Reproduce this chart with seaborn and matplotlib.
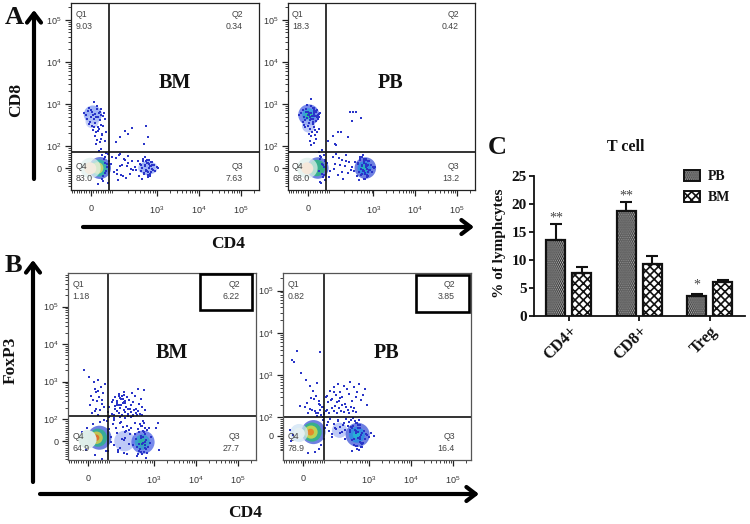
import matplotlib
matplotlib.use("Agg")
import matplotlib.pyplot as plt
import pandas as pd
import seaborn as sns
from matplotlib.patches import Patch, Rectangle

sns.set_theme(style="white")
plt.rcParams["font.family"] = ["Liberation Sans", "DejaVu Sans"]
plt.rcParams["mathtext.default"] = "regular"
plt.rcParams["hatch.linewidth"] = 1.2

W, H = 750, 524
SERIF = "Liberation Serif"

# bar chart values
cells = ["CD4+", "CD8+", "Treg"]
pb_vals = [13.6, 18.7, 3.5]
bm_vals = [7.7, 9.3, 6.0]
pb_err = [2.8, 1.6, 0.4]
bm_err = [1.1, 1.5, 0.4]
sig_labels = ["**", "**", "*"]
sig_y = [16.3, 20.2, 4.3]

# gate percentages per plot (Q1, Q2, Q3, Q4)
a_bm_pct = ["9.03", "0.34", "7.63", "83.0"]
a_pb_pct = ["18.3", "0.42", "13.2", "68.0"]
b_bm_pct = ["1.18", "6.22", "27.7", "64.9"]
b_pb_pct = ["0.82", "3.85", "16.4", "78.9"]

# events, in fluorescence units
a_bm_x = [-30, -18, -10, -4, 2, 8, 14, 20, 26, 32, 38, 44, 50, -22, -12, 0, 6, 12, 18, 24, 30, 36, 42, 55, 60, -8, 4, 16, 28, 40,
          10, 22, 34, 46, 18, 30, 42, 26, 14, 36, 20, 48, 52, 60, 64,
          70, 60, 55, 48, 66, 72, 62, 50, 58, 68, 75, 40, 52, 64, 35, 47, 30, 58,
          85, 95, 105, 115, 125, 140, 150, 165, 180, 195, 210, 230, 250, 270, 300, 120, 135, 160, 200, 240, 90, 110, 130, 175,
          320, 350, 380, 410, 440, 470, 500, 530, 560, 590, 620, 650, 680, 710, 740, 780, 820, 870, 920, 980, 1050,
          400, 430, 460, 490, 520, 550, 580, 610, 640, 670, 700, 730, 760, 450, 510, 570, 630, 690, 750, 540, 600, 660,
          105, 130, 170, 200, 250, 480, 620, 560]
a_bm_y = [620, 450, 820, 380, 700, 540, 1100, 480, 900, 600, 420, 760, 520, 560, 690, 500, 640, 430, 590, 740, 480, 660, 560, 600, 450, 340, 300, 360, 280, 320,
          240, 210, 260, 190, 170, 230, 150, 140, 280, 125, 110, 180, 300, 135, 220,
          62, -22, 40, -50, 18, -70, 70, -35, 50, 5, 30, 85, -60, -15, 78, 60, -72, 25,
          20, -18, 45, -8, 60, -30, 15, 40, -45, 8, 55, -25, 30, -10, 5, -55, 65, -38, 22, -5, 48, -28, 10, 35,
          -10, 30, -35, 15, -50, 40, -22, 52, -12, 25, -42, 35, -30, 10, -18, 28, -8, 12, -15, 5, 2,
          20, -15, 32, -28, 12, -8, 38, -20, 18, -35, 8, 28, -6, -2, 8, -12, 22, -25, 14, 30, -30, 2,
          125, 160, 230, 190, 270, 110, 160, 300]

a_pb_x = [-35, -22, -12, -5, 2, 9, 15, 22, 28, 35, 42, 48, -28, -16, -6, 5, 12, 19, 26, 33, 40, 46, 52, -20, -8, 3, 14, 25, 36, 44,
          0, 10, 20, 30, 40, -10, 5, 15, 25, 35, 8, 18, 28, -15, 45, 12, 22, 32, 6, 16, 26, 38, 2, 12, 24, 34, -4, 8, 30, 20,
          66, 58, 50, 70, 62, 54, 46, 72, 64, 56, 48, 68, 60, 52, 74, 66, 58, 50,
          82, 92, 105, 115, 130, 145, 160, 175, 190, 210, 225, 245, 265, 290, 315, 88, 120, 150, 180, 220,
          340, 370, 400, 430, 460, 490, 520, 550, 580, 610, 640, 670, 700, 730, 760, 790, 820, 860, 900, 950, 1020, 1100,
          420, 450, 480, 510, 540, 570, 600, 630, 660, 690, 720, 750, 780, 500, 530, 560, 590, 620, 650, 680, 710, 470, 520, 600, 680, 740,
          85, 110, 140, 170, 120, 310, 320, 380, 280, 500, 130, 240]
a_pb_y = [560, 720, 420, 950, 640, 480, 1300, 820, 530, 680, 450, 590, 610, 500, 760, 560, 890, 430, 640, 520, 720, 480, 600, 380, 660, 350, 450, 780, 400, 540,
          300, 260, 330, 240, 210, 280, 190, 170, 290, 150, 135, 220, 120, 320, 260, 105, 380, 180, 600, 510, 570, 480, 550, 620, 700, 640, 460, 410, 520, 450,
          60, -25, 42, -55, 15, -70, 72, 30, -40, 52, -12, 5, 80, -62, 35, -30, 20, 55,
          25, -15, 50, -6, 65, -32, 12, 38, -48, 10, 58, -22, 28, -8, 4, -40, 18, 45, -18, 32,
          -12, 28, -38, 18, -55, 45, -25, 58, -14, 30, -48, 38, -32, 12, -20, 30, -8, 15, -18, 6, 0, 3,
          22, -18, 35, -30, 14, -10, 42, -24, 20, -40, 10, 32, -8, -3, 8, -14, 25, -28, 16, 4, -6, 48, 50, -50, 40, -35,
          130, 170, 220, 210, 110, 400, 640, 650, 650, 470, 105, 160]

b_bm_x = [-15, 5, 25, 40, 55, 62, 30, 48, 12, 36, 58, 44, 20, 52, 66, 35, 8, 28, 42, 60, 72, 16, 34,
          90, 105, 120, 135, 150, 165, 180, 195, 210, 225, 240, 260, 280, 300, 320, 350, 380, 410, 450, 490, 530, 570, 620,
          85, 100, 115, 130, 145, 160, 175, 190, 205, 220, 240, 265, 290, 310, 340, 370, 400, 430, 470, 510, 100, 130, 160, 190,
          120, 135, 150, 165, 180, 200, 120, 145, 170, 195, 90, 110, 160, 210, 240, 280, 320,
          78, 88, 98, 110, 125, 140, 155, 170, 190, 210, 230, 250, 270, 85, 105, 130, 155, 180, 205, 230, 260, 95, 115, 140, 165, 195, 220,
          290, 320, 350, 380, 410, 440, 470, 500, 530, 560, 590, 620, 650, 680, 710, 750, 790, 840, 1100, 1300, 1500, 1250,
          360, 390, 420, 450, 480, 510, 540, 570, 600, 630, 660, 690, 400, 440, 480, 520, 560, 600, 640, 460, 500, 540, 580, 620,
          -25, -10, 30, 50, 68, 74, -5, 20, 60]
b_bm_y = [2000, 1300, 950, 1100, 720, 480, 620, 380, 420, 300, 250, 560, 330, 170, 210, 190, 240, 160, 130, 330, 850, 145, 520,
          210, 330, 180, 270, 420, 230, 340, 510, 260, 390, 190, 320, 240, 480, 280, 410, 190, 620, 250, 340, 210, 610, 170,
          150, 135, 125, 160, 145, 200, 130, 175, 155, 210, 140, 185, 150, 130, 170, 145, 125, 160, 140, 130, 290, 240, 360, 280,
          380, 310, 470, 350, 260, 300, 220, 240, 410, 430, 110, 105, 115, 108, 120, 112, 118,
          90, 55, 20, -20, 60, -40, 80, 10, -55, 40, 70, -15, 30, -45, 75, 35, -30, 65, 15, -60, 50, -5, 95, -50, 85, 5, 45,
          60, -20, 80, 10, -60, 40, -35, 70, -15, 90, -50, 30, -75, 50, -25, 60, -10, 20, 60, -40, -90, 80,
          30, -25, 55, -45, 15, 70, -10, 40, -30, 60, 5, -55, -70, -15, 25, -60, 45, -5, -35, 75, -50, 20, 80, -20,
          40, -40, -65, 85, 95, -45, 60, 75, -82]

b_pb_x = [-45, -38, -25, -10, 12, 28, 42, 55, -12, 18, 30, 46, 60, 72, 38, 22, 52, 8, 66, 34,
          84, 95, 108, 120, 135, 150, 165, 180, 195, 210, 230, 250, 275, 300, 330, 360, 400, 440, 480, 530, 590, 650, 720, 800, 880,
          88, 100, 115, 130, 145, 160, 178, 195, 215, 235, 260, 285, 315, 345, 375, 410, 450, 500, 100, 125, 150, 175, 200,
          65, 70, 76, 80, 72, 60, 55, 68, 82, 90, 98,
          85, 92, 100, 110, 120, 135, 150, 165, 185, 205, 225, 250, 275, 90, 108, 130, 155, 180, 210, 240, 270,
          290, 310, 330, 350, 380, 400, 430, 460, 490, 520, 550, 580, 610, 640, 670, 710, 750, 800, 860, 920, 1000, 1150, 1350,
          360, 390, 420, 450, 480, 510, 540, 570, 600, 630, 660, 690, 400, 440, 480, 520, 560, 600, 640, 460, 500, 540, 580, 620, 380, 700,
          -55, -50, -42, 74, 68, 50, 20]
b_pb_y = [2300, 2000, 3800, 1100, 780, 560, 430, 330, 190, 220, 160, 270, 640, 3600, 150, 130, 140, 175, 210, 290,
          180, 310, 230, 420, 280, 520, 340, 620, 250, 400, 300, 560, 210, 470, 350, 680, 240, 520, 300, 400, 620, 260, 340, 460, 200,
          130, 150, 125, 165, 140, 190, 130, 170, 145, 200, 135, 180, 150, 125, 175, 140, 165, 135, 320, 260, 400, 230, 290,
          130, 150, 115, 175, 200, 110, 125, 240, 105, 120, 140,
          85, 40, 60, 25, 90, 10, 65, 35, 80, 50, 20, 70, 30, -15, 75, -5, 45, 85, 15, 60, -20,
          90, 55, 75, 20, 85, 40, 95, 30, 70, -55, 60, -75, 45, -60, 15, -40, 25, -20, 10, 5, -5, 15, 0,
          30, -25, 55, -50, 15, 70, -10, 40, -35, 60, 5, -60, -85, -15, 25, -70, 45, -5, -40, 80, -55, 20, 85, -20, 50, -45,
          30, -30, 5, -50, -70, -90, -95]

# soft density patches of the dense populations: x, y, marker area, colour
a_bm_blob_x = [8, 5, 600, 480, 750, 38, 34, 28, -2, -4]
a_bm_blob_y = [560, 380, 0, 0, 0, 0, 0, 0, 0, 0]
a_bm_blob_s = [170, 90, 110, 60, 70, 250, 150, 70, 220, 70]
a_bm_blob_c = ["#7f9af2", "#b4c2f6", "#7f9af2", "#a0b2f4", "#a0b2f4", "#3d55d8", "#27c49a", "#e8e060", "#e2f1ee", "#f5ece0"]

a_pb_blob_x = [4, 4, 4, 3, 640, 610, 600, 42, 38, -2, -4]
a_pb_blob_y = [550, 550, 550, 300, 0, 0, 0, 0, 0, 0, 0]
a_pb_blob_s = [230, 90, 25, 90, 240, 100, 25, 240, 140, 220, 70]
a_pb_blob_c = ["#4a63e6", "#2aa0d8", "#25c98a", "#a8b8f5", "#3d55d8", "#1f8fe0", "#22c0b0", "#3d55d8", "#25c070", "#dff0ec", "#f6e8da"]

b_bm_blob_x = [200, 550, 530, 520, 48, 42, 36, 34, -3]
b_bm_blob_y = [0, -5, -5, -5, 15, 15, 15, 15, 10]
b_bm_blob_s = [220, 280, 120, 30, 300, 170, 80, 22, 170]
b_bm_blob_c = ["#a8b8f5", "#4a63e6", "#2aa0c8", "#28b89a", "#3d55d8", "#25b880", "#e8d040", "#e8561e", "#dfeeea"]

b_pb_blob_x = [200, 540, 520, 510, 44, 38, 34, 32, -16, -18]
b_pb_blob_y = [30, 5, 5, 5, 20, 20, 20, 20, 15, 15]
b_pb_blob_s = [120, 300, 130, 30, 300, 190, 90, 24, 170, 60]
b_pb_blob_c = ["#a8b8f5", "#3d55d8", "#1f8fe0", "#22c0d0", "#3d55d8", "#25c070", "#e8e040", "#f0701e", "#cfe3f5", "#e6f1f2"]

major_ticks = [0, 1e3, 1e4, 1e5]
major_labels = ["0", r"$10^{3}$", r"$10^{4}$", r"$10^{5}$"]
y_ticks = [0, 1e2, 1e3, 1e4, 1e5]
y_labels = ["0", r"$10^{2}$", r"$10^{3}$", r"$10^{4}$", r"$10^{5}$"]
minor_ticks = ([v for v in range(-80, 100, 10) if v != 0]
               + [m * d for d in (100, 1000, 10000, 100000) for m in range(2, 10)])

fig = plt.figure(figsize=(W / 100, H / 100), dpi=100, facecolor="white")


def px_axes(left, top, right, bottom):
    return fig.add_axes([left / W, 1 - bottom / H, (right - left) / W, (bottom - top) / H])


def dot_plot(box, xs, ys, blob, pct, gate, ylin, ylim, name, frame="#222222"):
    ax = px_axes(*box)
    bx, by, bs, bc = blob
    sns.scatterplot(x=bx, y=by, hue=list(range(len(bx))), palette=bc, size=list(range(len(bx))),
                    sizes=dict(enumerate(bs)), alpha=0.75, linewidth=0, legend=False, ax=ax)
    sns.scatterplot(x=xs, y=ys, color="#2a35c8", s=1.0, marker="s", linewidth=0, ax=ax)
    # snow in the middle of the negative population goes on top of the dots
    sns.scatterplot(x=bx[-1:], y=by[-1:], color=bc[-1], s=bs[-1], linewidth=0, alpha=0.95, ax=ax)
    ax.set_xscale("symlog", linthresh=100, linscale=0.514)
    ax.set_yscale("symlog", linthresh=100, linscale=ylin)
    xlim = (-83, 2.7e5)
    ax.set_xticks(major_ticks, major_labels)
    ax.set_yticks(y_ticks, y_labels)
    ax.set_xticks([v for v in minor_ticks if xlim[0] < v < xlim[1]], minor=True)
    ax.set_yticks([v for v in minor_ticks if ylim[0] < v < ylim[1]], minor=True)
    ax.set_xlim(*xlim)
    ax.set_ylim(*ylim)
    ax.tick_params(which="major", length=4, width=0.9, color="#222222", labelsize=6.5, labelcolor="#333333", bottom=True, left=True)
    ax.tick_params(which="minor", length=2, width=0.6, color="#222222", bottom=True, left=True)
    ax.tick_params(axis="x", which="major", pad=6)
    ax.tick_params(axis="y", which="major", pad=3)
    for s in ax.spines.values():
        s.set_linewidth(0.9)
        s.set_color(frame)
    ax.axvline(gate[0], color="#111111", lw=1.2)
    ax.axhline(gate[1], color="#111111", lw=1.2)
    style = dict(transform=ax.transAxes, fontsize=6.3, color="#444444", va="center")
    ax.text(0.022, 0.936, "Q1", **style)
    ax.text(0.022, 0.877, pct[0], **style)
    ax.text(0.915, 0.936, "Q2", ha="right", **style)
    ax.text(0.915, 0.877, pct[1], ha="right", **style)
    ax.text(0.915, 0.128, "Q3", ha="right", **style)
    ax.text(0.915, 0.064, pct[2], ha="right", **style)
    ax.text(0.022, 0.128, "Q4", **style)
    ax.text(0.022, 0.064, pct[3], **style)
    ax.text(0.55, 0.57, name, transform=ax.transAxes, family=SERIF, weight="bold", fontsize=14.5,
            color="#111111", ha="center", va="center")
    return ax


dot_plot((71, 3, 259, 190), a_bm_x, a_bm_y, (a_bm_blob_x, a_bm_blob_y, a_bm_blob_s, a_bm_blob_c),
         a_bm_pct, (75, 73), 0.47, (-100, 2.5e5), "BM")
dot_plot((288, 3, 475, 190), a_pb_x, a_pb_y, (a_pb_blob_x, a_pb_blob_y, a_pb_blob_s, a_pb_blob_c),
         a_pb_pct, (75, 73), 0.47, (-100, 2.5e5), "PB")
dot_plot((68, 273, 256, 460), b_bm_x, b_bm_y, (b_bm_blob_x, b_bm_blob_y, b_bm_blob_s, b_bm_blob_c),
         b_bm_pct, (85, 120), 0.53, (-86, 7.9e5), "BM", frame="#555555")
dot_plot((283, 273, 471, 460), b_pb_x, b_pb_y, (b_pb_blob_x, b_pb_blob_y, b_pb_blob_s, b_pb_blob_c),
         b_pb_pct, (88, 105), 0.39, (-138, 2.6e5), "PB", frame="#555555")

# bar panel
bar_df = pd.DataFrame({"cell": cells * 2, "value": pb_vals + bm_vals, "err": pb_err + bm_err,
                       "group": ["PB"] * 3 + ["BM"] * 3})
bar_ax = px_axes(534, 176, 745, 316)
sns.barplot(data=bar_df, x="cell", y="value", hue="group", hue_order=["PB", "BM"], order=cells,
            palette=["#d8d8d8", "white"], width=0.74, gap=0.27, edgecolor="#111111", linewidth=1.6,
            saturation=1, errorbar=None, legend=False, ax=bar_ax)
pb_bars, bm_bars = bar_ax.containers
for bars, hatch, errs in ((pb_bars, "........", pb_err), (bm_bars, "xxxx", bm_err)):
    for bar, err in zip(bars, errs):
        bar.set_hatch(hatch)
        cx = bar.get_x() + bar.get_width() / 2
        bar_ax.errorbar(cx, bar.get_height(), yerr=[[0], [err]], color="#111111", lw=1.5, capsize=4, capthick=1.5)
for bar, lab, y in zip(pb_bars, sig_labels, sig_y):
    bar_ax.text(bar.get_x() + bar.get_width() / 2, y, lab, family=SERIF, fontsize=10, color="#444444", ha="center", va="bottom")

bar_ax.set_xlim(-0.496, 2.5)
bar_ax.set_ylim(0, 25)
bar_ax.set_yticks([0, 5, 10, 15, 20, 25])
bar_ax.set_xlabel("")
bar_ax.set_ylabel("")
sns.despine(ax=bar_ax)
for s in ("left", "bottom"):
    bar_ax.spines[s].set_linewidth(1.3)
    bar_ax.spines[s].set_color("#111111")
bar_ax.tick_params(axis="both", length=3.6, width=1.3, color="#111111", bottom=True, left=True, pad=1.5)
plt.setp(bar_ax.get_yticklabels(), family=SERIF, weight="bold", fontsize=11, color="#111111")
plt.setp(bar_ax.get_xticklabels(), family=SERIF, weight="bold", fontsize=11.5, color="#111111",
         rotation=45, ha="right", rotation_mode="anchor")

bar_ax.legend(handles=[Patch(facecolor="#d8d8d8", edgecolor="#111111", hatch="........", lw=1.4, label="PB"),
                       Patch(facecolor="white", edgecolor="#111111", hatch="xxxx", lw=1.4, label="BM")],
              loc="upper left", bbox_to_anchor=(0.677, 1.09), frameon=False, handlelength=1.15, handleheight=0.8,
              labelspacing=0.55, handletextpad=0.6, borderpad=0, prop={"family": SERIF, "weight": "bold", "size": 10},
              labelcolor="#111111")

# overlay in picture pixels for the hand drawn arrows, boxes and panel letters
over = fig.add_axes([0, 0, 1, 1], zorder=10)
over.set_xlim(0, W)
over.set_ylim(H, 0)
over.axis("off")
over.patch.set_alpha(0)


def arrow(x0, y0, x1, y1):
    over.annotate("", xy=(x1, y1), xytext=(x0, y0),
                  arrowprops=dict(arrowstyle="->,head_length=0.55,head_width=0.42", lw=3, color="black",
                                  shrinkA=0, shrinkB=0))


arrow(34, 179, 34, 10)
arrow(83, 227, 474, 227)
arrow(33, 482, 33, 260)
arrow(40, 494, 479, 494)

for x0, y0, x1, y1 in ((200, 274, 252, 310), (416, 275, 469, 312)):
    over.add_patch(Rectangle((x0, y0), x1 - x0, y1 - y0, fill=False, edgecolor="black", lw=1.9))


def label(x, y, s, size, rotation=0):
    over.text(x, y, s, family=SERIF, weight="bold", fontsize=size, color="#111111", ha="center", va="center", rotation=rotation)


label(14, 17, "A", 19)
label(13, 266, "B", 19)
label(497, 148, "C", 19)
label(16, 100, "CD8", 12.5, 90)
label(228, 244, "CD4", 12.5)
label(11, 360, "FoxP3", 12.5, 90)
label(245, 513, "CD4", 12.5)
label(626, 147, "T cell", 11.5)
label(499, 243, "% of lymphcytes", 11, 90)

fig.savefig("out.png", dpi=100)
